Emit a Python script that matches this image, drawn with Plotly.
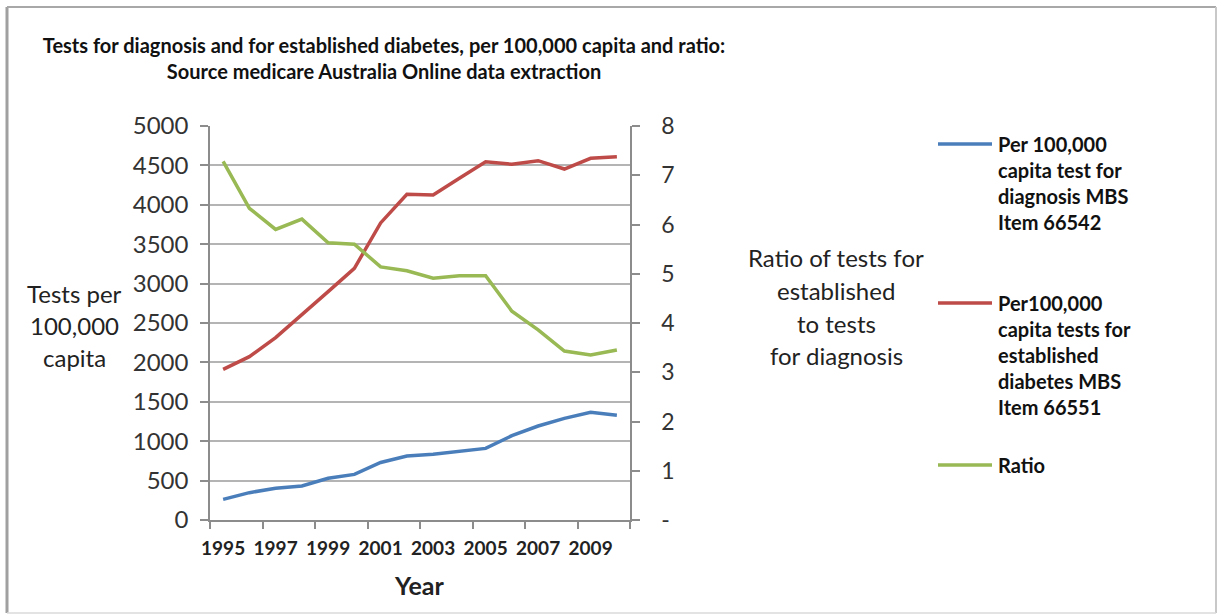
import plotly.graph_objects as go

# Medicare Australia MBS data, 1995-2010
years = list(range(1995, 2011))
diagnosis_per_100k = [262, 347, 402, 431, 529, 579, 730, 812, 833, 867, 909, 1070, 1193, 1290, 1367, 1329]
established_per_100k = [1912, 2073, 2314, 2602, 2898, 3194, 3770, 4133, 4124, 4336, 4547, 4514, 4560, 4454, 4590, 4611]
ratio = [7.28, 6.33, 5.90, 6.11, 5.63, 5.60, 5.14, 5.06, 4.91, 4.96, 4.96, 4.24, 3.86, 3.43, 3.35, 3.45]

left_ticks = list(range(0, 5001, 500))
right_ticks = list(range(0, 9))
right_ticktext = ["-"] + [str(v) for v in right_ticks[1:]]
year_labels = list(range(1995, 2010, 2))

legend_labels = [
    "Per 100,000<br>capita test for<br>diagnosis MBS<br>Item 66542",
    "Per100,000<br>capita tests for<br>established<br>diabetes MBS<br>Item 66551",
    "Ratio",
]
colors = ["#4A7EBB", "#BE4B48", "#98B954"]

W, H = 1218, 615
L, R, T, B = 210, 630, 126, 520
FONT = "Lato"


def px(x):
    return (x - L) / (R - L)


def py(y):
    return (B - y) / (B - T)


fig = go.Figure()
fig.add_trace(go.Scatter(x=years, y=diagnosis_per_100k, mode="lines",
                         line=dict(color=colors[0], width=3.5), showlegend=False))
fig.add_trace(go.Scatter(x=years, y=established_per_100k, mode="lines",
                         line=dict(color=colors[1], width=3.5), showlegend=False))
fig.add_trace(go.Scatter(x=years, y=ratio, mode="lines", yaxis="y2",
                         line=dict(color=colors[2], width=3.5), showlegend=False))

axis_grey = "#8C8C8C"
fig.update_layout(
    width=W, height=H,
    margin=dict(l=L, r=W - R, t=T, b=H - B),
    paper_bgcolor="white", plot_bgcolor="white",
    font=dict(family=FONT, color="#222222"),
    title=dict(
        text="<b>Tests for diagnosis and for established diabetes, per 100,000 capita and ratio:<br>"
             "Source medicare Australia Online data extraction</b>",
        x=384 / W, xanchor="center", xref="container",
        y=1 - 53 / H, yanchor="middle", yref="container",
        font=dict(family=FONT, size=20, color="#111111"),
    ),
    xaxis=dict(
        range=[1994.5, 2010.5], tickvals=year_labels,
        ticks="", showgrid=False, zeroline=False,
        showline=True, linecolor=axis_grey, linewidth=1.5,
        tickfont=dict(family=FONT, size=19, color="#222222", weight="bold"),
        ticklabelstandoff=10,
        minor=dict(tickvals=[1994.5 + 2 * i for i in range(9)], ticks="outside",
                   ticklen=7, tickcolor=axis_grey, tickwidth=1.5, showgrid=False),
    ),
    yaxis=dict(
        range=[0, 5000], tickvals=left_ticks,
        ticks="outside", ticklen=8, tickcolor=axis_grey, tickwidth=1.5,
        showline=True, linecolor=axis_grey, linewidth=1.5,
        showgrid=True, gridcolor="#B4B4B4", gridwidth=1.5, zeroline=False,
        tickfont=dict(family=FONT, size=24, color="#333333"),
        ticklabelstandoff=7,
    ),
    yaxis2=dict(
        range=[0, 8], tickvals=right_ticks, ticktext=right_ticktext,
        overlaying="y", side="right",
        ticks="outside", ticklen=8, tickcolor=axis_grey, tickwidth=1.5,
        showline=True, linecolor=axis_grey, linewidth=1.5,
        showgrid=False, zeroline=False,
        tickfont=dict(family=FONT, size=23, color="#333333"),
        ticklabelstandoff=17,
    ),
)

annotations = []

# Left axis title, one line at a time
for text, y in zip(["Tests per", "100,000", "capita"], [293, 325, 357]):
    annotations.append(dict(text=text, x=px(74), y=py(y), xref="paper", yref="paper",
                            xanchor="center", yanchor="middle", showarrow=False,
                            font=dict(family=FONT, size=24, color="#222222")))

# Right axis title
for text, y in zip(["Ratio of tests for", "established", "to tests", "for diagnosis"],
                   [257, 290, 323, 355]):
    annotations.append(dict(text=text, x=px(836), y=py(y), xref="paper", yref="paper",
                            xanchor="center", yanchor="middle", showarrow=False,
                            font=dict(family=FONT, size=24, color="#222222")))

# X axis title
annotations.append(dict(text="<b>Year</b>", x=px(419), y=py(585), xref="paper", yref="paper",
                        xanchor="center", yanchor="middle", showarrow=False,
                        font=dict(family=FONT, size=25, color="#222222")))

# Legend block
shapes = []
legend_rows = [144, 303, 465]
for label, color, y in zip(legend_labels, colors, legend_rows):
    shapes.append(dict(type="line", xref="paper", yref="paper",
                       x0=px(938), x1=px(992), y0=py(y), y1=py(y),
                       line=dict(color=color, width=3.5)))
    annotations.append(dict(text="<b>" + label + "</b>", x=px(996), y=py(y - 14),
                            xref="paper", yref="paper", xanchor="left", yanchor="top",
                            align="left", showarrow=False,
                            font=dict(family=FONT, size=20, color="#111111")))

# Chart frame
frame = [
    (7, 7, 7, 613, "#A0A0A0", 3),
    (7, 7, 1216, 7, "#A8A8A8", 2),
    (1216, 7, 1216, 613, "#C8C8C8", 2),
    (7, 613, 1216, 613, "#DADADA", 1.5),
]
for x0, y0, x1, y1, c, w in frame:
    shapes.append(dict(type="line", xref="paper", yref="paper",
                       x0=px(x0), x1=px(x1), y0=py(y0), y1=py(y1),
                       line=dict(color=c, width=w)))

fig.update_layout(annotations=annotations, shapes=shapes)
fig.write_html("out.html")
